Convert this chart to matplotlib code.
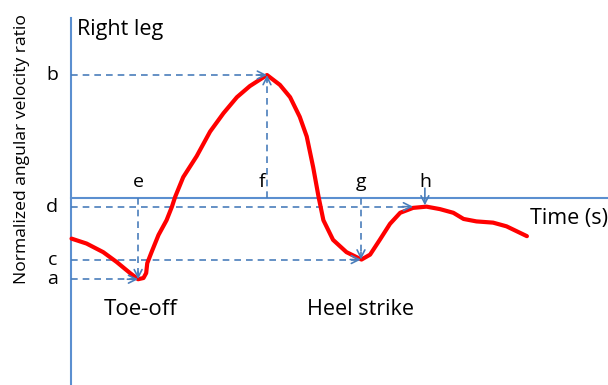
import numpy as np
import matplotlib.pyplot as plt

plt.rcParams['font.family'] = ['Open Sans', 'DejaVu Sans']

# curve (time in arbitrary units, normalized ratio)
time = [0.01, 0.29, 0.60, 0.85, 1.10, 1.25, 1.35, 1.40, 1.42, 1.50, 1.63,
        1.78, 1.88, 1.94, 2.09, 2.34, 2.59, 2.84, 3.09, 3.33, 3.65, 3.89,
        4.08, 4.26, 4.39, 4.51, 4.61, 4.70, 4.88, 5.13, 5.41, 5.57, 5.75,
        5.94, 6.13, 6.37, 6.62, 6.87, 7.12, 7.31, 7.55, 7.86, 8.11, 8.49]
ratio = [-0.33, -0.37, -0.44, -0.52, -0.61, -0.66, -0.65, -0.61, -0.53, -0.44, -0.30,
         -0.18, -0.07, 0.01, 0.17, 0.34, 0.54, 0.69, 0.82, 0.91, 1.00, 0.92,
         0.82, 0.66, 0.50, 0.25, 0.01, -0.18, -0.34, -0.44, -0.50, -0.46, -0.34,
         -0.21, -0.12, -0.08, -0.07, -0.09, -0.12, -0.17, -0.19, -0.20, -0.23, -0.31]

# marked levels and instants
levels = {'a': -0.66, 'b': 1.00, 'c': -0.50, 'd': -0.07}
instants = {'e': 1.25, 'f': 3.65, 'g': 5.40, 'h': 6.59}

red = '#ff0000'
axis_blue = '#5b8fd0'
dash_blue = '#4a7ebb'

fig = plt.figure(figsize=(6.08, 3.85), dpi=100)
ax = fig.add_axes([0, 0, 1, 1])
ax.set_xlim(-1.322, 10.0)
ax.set_ylim(-1.52, 1.61)
ax.axis('off')

# axes drawn as plain lines
ax.plot([0, 10.0], [0, 0], color=axis_blue, lw=1.5)
ax.plot([0, 0], [-1.52, 1.46], color=axis_blue, lw=1.5)


def dashed_arrow(x0, y0, x1, y1):
    ax.plot([x0, x1], [y0, y1], color=dash_blue, lw=1.2, ls=(0, (4, 3)))
    dx, dy = (x1 - x0), (y1 - y0)
    n = np.hypot(dx / 10.0, dy / 3.0)
    ax.annotate('', xy=(x1, y1), xytext=(x1 - dx / n * 0.02, y1 - dy / n * 0.02),
                arrowprops=dict(arrowstyle='->', color=dash_blue, lw=1.2,
                                mutation_scale=14, shrinkA=0, shrinkB=0))


# b: peak
dashed_arrow(0, levels['b'], instants['f'], levels['b'])
dashed_arrow(instants['f'], 0, instants['f'], levels['b'])
# a: toe-off minimum
dashed_arrow(0, levels['a'], instants['e'], levels['a'])
dashed_arrow(instants['e'], 0, instants['e'], levels['a'])
# c: heel strike minimum
dashed_arrow(0, levels['c'], instants['g'], levels['c'])
dashed_arrow(instants['g'], 0, instants['g'], levels['c'])
# d: plateau
dashed_arrow(0, levels['d'], 6.37, levels['d'])
# h: solid short arrow
ax.annotate('', xy=(instants['h'], levels['d'] + 0.01), xytext=(instants['h'], 0.08),
            arrowprops=dict(arrowstyle='->', color=dash_blue, lw=1.2,
                            mutation_scale=14, shrinkA=0, shrinkB=0))

ax.plot(time, ratio, color=red, lw=3, solid_capstyle='round', solid_joinstyle='round')

# letters
for k, v in levels.items():
    ax.text(-0.35, v, k, fontsize=14, ha='center', va='center')
for k, v in instants.items():
    xo = -0.1 if k == 'f' else 0
    ax.text(v + xo, 0.13, k, fontsize=14, ha='center', va='center')

ax.text(0.12, 1.37, 'Right leg', fontsize=15.5, ha='left', va='center')
ax.text(-0.92, 0.40, 'Normalized angular velocity ratio', fontsize=12.6,
        rotation=90, ha='center', va='center')
ax.text(1.3, -0.91, 'Toe-off', fontsize=16, ha='center', va='center')
ax.text(5.4, -0.91, 'Heel strike', fontsize=15.5, ha='center', va='center')
ax.text(8.55, -0.17, 'Time (s)', fontsize=15.5, ha='left', va='center')

fig.savefig('out.png', dpi=100)
